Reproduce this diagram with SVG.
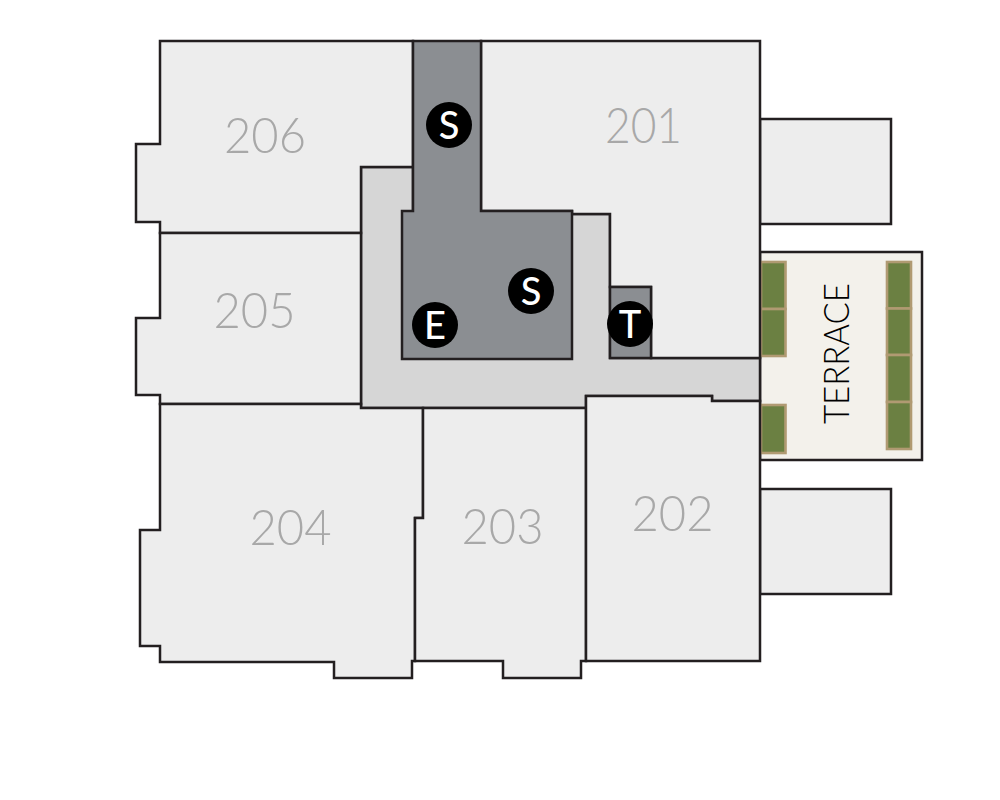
<svg xmlns="http://www.w3.org/2000/svg" width="1000" height="800" viewBox="0 0 1000 800">
<style>
.unit{fill:#ededed;stroke:#231f20;stroke-width:2.5;stroke-linejoin:miter}
.corr{fill:#d6d6d6;stroke:#231f20;stroke-width:2.5}
.core{fill:#8b8e92;stroke:#231f20;stroke-width:2.5}
.plant{fill:#6b8042;stroke:#b09a72;stroke-width:2.6}
.num{font-family:"Lato","Liberation Sans",sans-serif;font-weight:300;font-size:49px;fill:#a8a8a8;text-anchor:middle}
.dot{fill:#000}
.let{font-family:"Lato","Liberation Sans",sans-serif;font-weight:500;font-size:38px;fill:#fff;text-anchor:middle}
.ter{font-family:"Lato","Liberation Sans",sans-serif;font-weight:300;font-size:35px;fill:#000;text-anchor:middle}
</style>
<g id="balcony-n"><rect class="unit" x="760" y="119" width="131" height="105"/></g>
<g id="balcony-s"><rect class="unit" x="760" y="489" width="131" height="105"/></g>
<g id="terrace">
<rect x="760" y="252" width="162" height="208" fill="#f3f1eb" stroke="#231f20" stroke-width="2.5"/>
<rect class="plant" x="761" y="262" width="24.500" height="47"/>
<rect class="plant" x="761" y="309" width="24.500" height="47"/>
<rect class="plant" x="761" y="405" width="24.500" height="48"/>
<rect class="plant" x="887" y="262" width="24" height="46.500"/>
<rect class="plant" x="887" y="308.500" width="24" height="46.500"/>
<rect class="plant" x="887" y="355" width="24" height="47"/>
<rect class="plant" x="887" y="402" width="24" height="47"/>
<text class="ter" transform="translate(849,353.500) rotate(-90)" textLength="141" lengthAdjust="spacingAndGlyphs">TERRACE</text>
</g>
<g id="corridor"><path class="corr" d="M361 167H413V211H572V214H610V358H760V401H712V396H586V408H361Z"/></g>
<g id="unit-206"><path class="unit" d="M160 41H413V167H361V233H160V222H136V144H160Z"/><text class="num" x="265" y="153" textLength="82" lengthAdjust="spacingAndGlyphs">206</text></g>
<g id="unit-205"><path class="unit" d="M160 233H361V404H160V395H136V318H160Z"/><text class="num" x="254.500" y="328" textLength="82" lengthAdjust="spacingAndGlyphs">205</text></g>
<g id="unit-204"><path class="unit" d="M160 404H361V408H423V518H415V661H412V678H334V662H160V646H140V530H160Z"/><text class="num" x="290.500" y="545" textLength="82" lengthAdjust="spacingAndGlyphs">204</text></g>
<g id="unit-203"><path class="unit" d="M423 408H586V661H581V678H503V661H415V518H423Z"/><text class="num" x="502.500" y="544" textLength="82" lengthAdjust="spacingAndGlyphs">203</text></g>
<g id="unit-202"><path class="unit" d="M586 396H712V401H760V661H586Z"/><text class="num" x="672.500" y="531" textLength="82" lengthAdjust="spacingAndGlyphs">202</text></g>
<g id="unit-201"><path class="unit" d="M481 41H760V358H651V287H610V214H572V211H481Z"/><text class="num" x="643.500" y="143" textLength="77" lengthAdjust="spacingAndGlyphs">201</text></g>
<g id="core"><path class="core" d="M413 41H481V211H572V359H402V211H413Z"/></g>
<g id="core-t"><rect class="core" x="610" y="287" width="41" height="71"/></g>
<g id="stair-1"><circle class="dot" cx="449" cy="125" r="23"/><text class="let" x="449" y="139">S</text></g>
<g id="stair-2"><circle class="dot" cx="531" cy="291" r="23"/><text class="let" x="531" y="305">S</text></g>
<g id="elevator"><circle class="dot" cx="435" cy="325" r="23"/><text class="let" x="435" y="339">E</text></g>
<g id="trash"><circle class="dot" cx="630" cy="324" r="23"/><text class="let" x="630" y="338">T</text></g>
</svg>
